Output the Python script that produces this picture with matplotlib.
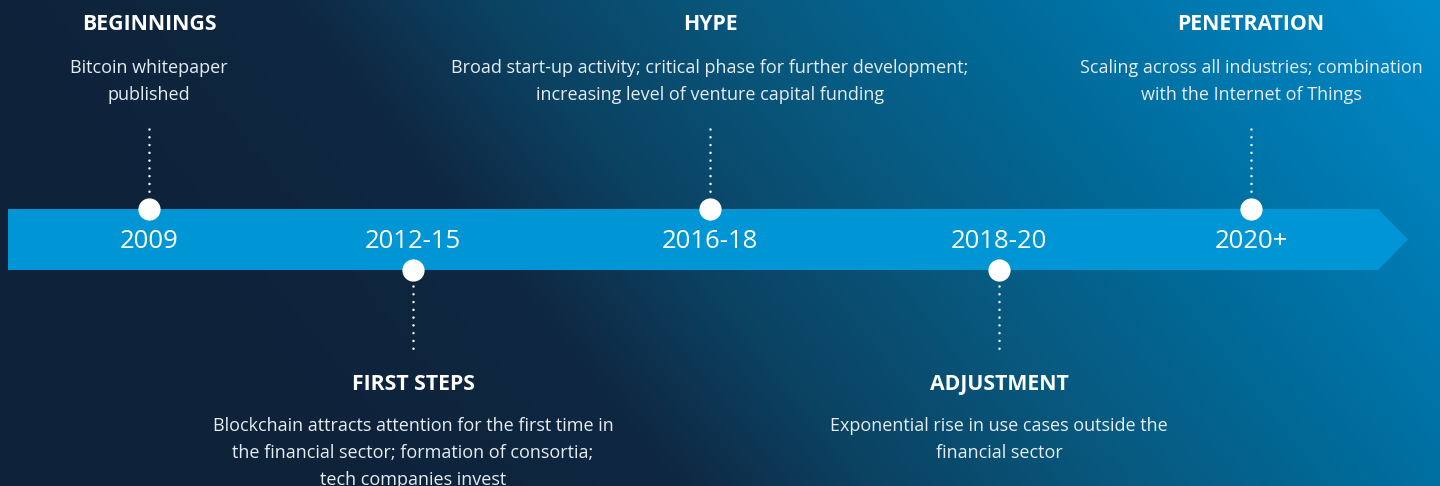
import matplotlib
matplotlib.use("Agg")
import matplotlib.pyplot as plt
import numpy as np
from matplotlib.colors import LinearSegmentedColormap
from matplotlib.patches import Polygon

plt.rcParams["font.family"] = ["Open Sans", "Noto Sans", "DejaVu Sans"]

# --- timeline content ---
years = ["2009", "2012-15", "2016-18", "2018-20", "2020+"]
titles = ["BEGINNINGS", "FIRST STEPS", "HYPE", "ADJUSTMENT", "PENETRATION"]
descriptions = [
    "Bitcoin whitepaper\npublished",
    "Blockchain attracts attention for the first time in\nthe financial sector; formation of consortia;\ntech companies invest",
    "Broad start-up activity; critical phase for further development;\nincreasing level of venture capital funding",
    "Exponential rise in use cases outside the\nfinancial sector",
    "Scaling across all industries; combination\nwith the Internet of Things",
]
sides = ["top", "bottom", "top", "bottom", "top"]

# layout (pixel coordinates, y downwards)
W, H = 1440, 486
x_pos = [149, 413, 710, 999, 1251]
BAND_TOP, BAND_BOT = 209, 270
BAND_LEFT, BAND_END, TIP = 8, 1378, 1408

BAND = "#0096D6"
WHITE = "#FFFFFF"
TEXT = "#E6EDF2"

fig = plt.figure(figsize=(W / 100, H / 100), dpi=100)
ax = fig.add_axes([0, 0, 1, 1])
ax.set_xlim(0, W)
ax.set_ylim(H, 0)
ax.axis("off")

# background: diagonal navy -> blue gradient
bg = LinearSegmentedColormap.from_list(
    "bg", [(0.0, "#0E2239"), (0.25, "#0F2741"), (0.38, "#0B4262"),
           (0.55, "#08597F"), (0.72, "#006C9C"), (1.0, "#008BCB")])
xx, yy = np.meshgrid(np.linspace(0, W, 360), np.linspace(0, H, 122))
s = np.clip((xx - 0.8 * yy + 100) / 1550, 0, 1)
ax.imshow(s, cmap=bg, extent=(0, W, H, 0), aspect="auto", zorder=0,
          interpolation="bilinear")

# arrow band
mid = (BAND_TOP + BAND_BOT) / 2
ax.add_patch(Polygon([(BAND_LEFT, BAND_TOP), (BAND_END, BAND_TOP), (TIP, mid),
                      (BAND_END, BAND_BOT), (BAND_LEFT, BAND_BOT)],
                     closed=True, facecolor=BAND, edgecolor="none", zorder=1))

dots = dict(color=WHITE, lw=1.8, ls=(0, (0.01, 3.1)),
            dash_capstyle="round", zorder=2)

for x, yr, title, desc, side in zip(x_pos, years, titles, descriptions, sides):
    ax.text(x, mid + 2, yr, ha="center", va="center", fontsize=18.5,
            fontweight="medium", color=WHITE, zorder=4)
    if side == "top":
        y_dot = BAND_TOP
        ax.plot([x, x], [129, 193], **dots)
        ax.text(x, 25, title, ha="center", va="center", fontsize=15.3,
                fontweight="bold", color=WHITE, zorder=4)
        ax.text(x, 59, desc, ha="center", va="top", fontsize=13,
                color=TEXT, linespacing=1.66, zorder=4)
    else:
        y_dot = BAND_BOT
        ax.plot([x, x], [286, 350], **dots)
        ax.text(x, 384, title, ha="center", va="center", fontsize=15.3,
                fontweight="bold", color=WHITE, zorder=4)
        ax.text(x, 417, desc, ha="center", va="top", fontsize=13,
                color=TEXT, linespacing=1.66, zorder=4)
    ax.plot(x, y_dot, "o", ms=16, color=WHITE, mec="none", zorder=3)

fig.savefig("out.png", dpi=100)
plt.close(fig)
